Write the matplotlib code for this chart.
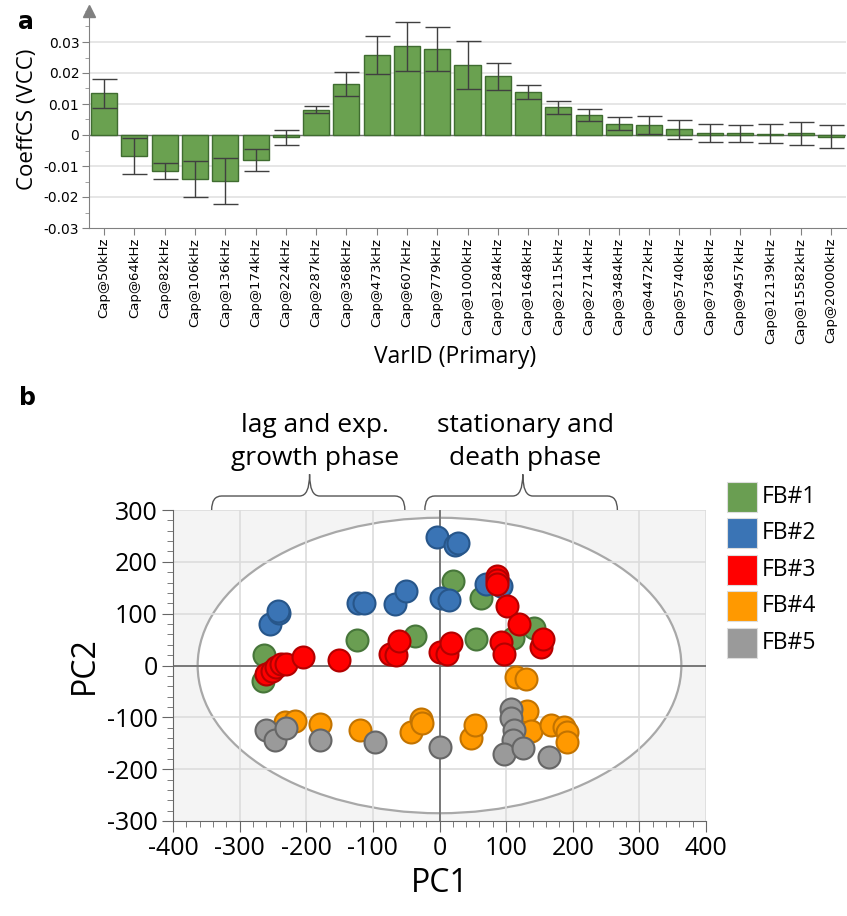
import numpy as np
import matplotlib
matplotlib.use("Agg")
from matplotlib import pyplot as plt
from matplotlib.patches import Ellipse, Rectangle, PathPatch
from matplotlib.path import Path
from matplotlib.ticker import MultipleLocator

plt.rcParams['axes.unicode_minus'] = False
plt.rcParams['font.family'] = ['Open Sans', 'DejaVu Sans']

# ---- panel a data ----
freqs = [50, 64, 82, 106, 136, 174, 224, 287, 368, 473, 607, 779, 1000, 1284,
         1648, 2115, 2714, 3484, 4472, 5740, 7368, 9457, 12139, 15582, 20000]
coef = [0.0134, -0.0067, -0.0117, -0.0142, -0.0148, -0.0080, -0.0008, 0.0082,
        0.0165, 0.0258, 0.0287, 0.0277, 0.0226, 0.0189, 0.0138, 0.0089, 0.0065,
        0.0037, 0.0032, 0.0018, 0.0006, 0.0005, 0.0004, 0.0005, -0.0005]
coef_err = [0.0046, 0.0058, 0.0026, 0.0057, 0.0075, 0.0035, 0.0023, 0.0012,
            0.0039, 0.0062, 0.0079, 0.0071, 0.0076, 0.0043, 0.0023, 0.0021,
            0.0019, 0.0022, 0.0030, 0.0032, 0.0029, 0.0026, 0.0030, 0.0036, 0.0037]
var_labels = ['Cap@%dkHz' % f for f in freqs]

# ---- panel b data ----
groups = ['FB#1', 'FB#2', 'FB#3', 'FB#4', 'FB#5']
fb1_x = [-264, -265, -124, -37, 20, 55, 62, 110, 142]
fb1_y = [21, -29, 49, 56, 163, 51, 131, 54, 72]
fb2_x = [-255, -241, -243, -123, -113, -67, -50, -4, 24, 28, 2, 14, 70, 92]
fb2_y = [81, 102, 105, 120, 120, 119, 143, 247, 233, 236, 131, 127, 157, 154]
fb3_x = [-260, -252, -245, -238, -230, -205, -151, -75, -65, -61, 0, 12, 17,
         87, 87, 87, 102, 120, 92, 97, 152, 156]
fb3_y = [-16, -10, -2, 3, 2, 17, 10, 22, 21, 47, 26, 22, 43,
         173, 165, 157, 115, 81, 45, 23, 35, 51]
fb4_x = [-232, -217, -180, -120, -43, -28, -27, 47, 54, 115, 130, 132, 137,
         167, 187, 192, 192]
fb4_y = [-109, -107, -112, -125, -128, -103, -110, -139, -115, -22, -26, -87,
         -126, -115, -119, -128, -147]
fb5_x = [-260, -247, -230, -179, -97, 0, 107, 108, 112, 110, 97, 125, 165]
fb5_y = [-124, -144, -120, -143, -147, -158, -83, -102, -125, -144, -170, -160, -176]
pc_x = [fb1_x, fb2_x, fb3_x, fb4_x, fb5_x]
pc_y = [fb1_y, fb2_y, fb3_y, fb4_y, fb5_y]
face = ['#6a9e52', '#3a74b5', '#ff0000', '#ff9900', '#9a9a9a']
edge = ['#47763a', '#27568a', '#b30000', '#c27300', '#666666']

fig = plt.figure(figsize=(8.47, 9.16), dpi=100)
W, H = 847., 916.

def box(l, t, r, b):
    return [l / W, 1 - b / H, (r - l) / W, (b - t) / H]

# ================= panel a =================
ax = fig.add_axes(box(89, 11, 846, 228))
xs = np.arange(len(coef))
ax.bar(xs, coef, width=0.86, color='#6aa150', edgecolor='#3f6c30', linewidth=1, zorder=3)
ax.errorbar(xs, coef, yerr=coef_err, fmt='none', ecolor='#404040', elinewidth=1,
            capsize=9, capthick=1, zorder=4)
ax.set_xlim(-0.5, len(coef) - 0.5)
ax.set_ylim(-0.03, 0.04)
ax.set_yticks([-0.03, -0.02, -0.01, 0, 0.01, 0.02, 0.03])
ax.set_yticklabels(['-0.03', '-0.02', '-0.01', '0', '0.01', '0.02', '0.03'],
                   fontsize=10, family='DejaVu Sans')
ax.yaxis.set_minor_locator(MultipleLocator(0.005))
for v in [-0.02, -0.01, 0.01, 0.02, 0.03]:
    ax.axhline(v, color='#e2e2e2', lw=1.2, zorder=1)
ax.axhline(0, color='#707070', lw=1, zorder=2)
ax.set_xticks(xs)
ax.set_xticklabels(var_labels, rotation=90, fontsize=9.5, family='DejaVu Sans')
for s in ['top', 'right']:
    ax.spines[s].set_visible(False)
for s in ['left', 'bottom']:
    ax.spines[s].set_color('#808080')
ax.tick_params(axis='both', which='major', color='#808080', length=5, pad=2)
ax.tick_params(axis='y', which='minor', color='#909090', length=3)
ax.plot([0], [1.0], marker='^', ms=9, color='#808080', transform=ax.transAxes,
        clip_on=False)
ax.set_ylabel('CoeffCS (VCC)', fontsize=16, labelpad=4)
ax.set_xlabel('VarID (Primary)', fontsize=16.5, labelpad=3)
ax.xaxis.set_label_coords((455 - 89) / 757., -0.54)

# ================= panel b =================
bx = fig.add_axes(box(173, 510, 706, 821))
bx.set_facecolor('#f4f4f4')
bx.add_patch(Ellipse((0, 0), 2 * 363, 2 * 285, facecolor='white', edgecolor='#a8a8a8',
                     lw=1.6, zorder=1))
for v in np.arange(-300, 401, 100):
    bx.axvline(v, color='#dcdcdc', lw=1.2, zorder=2)
for v in np.arange(-200, 301, 100):
    bx.axhline(v, color='#dcdcdc', lw=1.2, zorder=2)
bx.axvline(0, color='#707070', lw=1.3, zorder=2)
bx.axhline(0, color='#707070', lw=1.3, zorder=2)
for i in range(len(groups)):
    bx.scatter(pc_x[i], pc_y[i], s=250, c=face[i], edgecolors=edge[i], linewidths=1.5,
               zorder=3 + i)
bx.set_xlim(-400, 400)
bx.set_ylim(-300, 300)
bx.set_xticks(np.arange(-400, 401, 100))
bx.set_yticks(np.arange(-300, 301, 100))
bx.xaxis.set_minor_locator(MultipleLocator(20))
bx.yaxis.set_minor_locator(MultipleLocator(20))
bx.tick_params(axis='both', which='major', labelsize=18, color='#666666', length=8, pad=3)
bx.tick_params(axis='both', which='minor', color='#666666', length=4)
for s in ['top', 'right']:
    bx.spines[s].set_visible(False)
for s in ['left', 'bottom']:
    bx.spines[s].set_color('#666666')
bx.set_xlabel('PC1', fontsize=23, labelpad=4)
bx.set_ylabel('PC2', fontsize=23, labelpad=4)

# brackets above the score plot
def bracket(x0, x1, xc):
    y0, ym, yt = 300, 327, 369
    verts = [(x0, y0), (x0, ym), (x0 + 15, ym), (xc - 15, ym), (xc, ym), (xc, yt),
             (xc, yt), (xc, ym), (xc + 15, ym), (x1 - 15, ym), (x1, ym), (x1, y0)]
    codes = [Path.MOVETO, Path.CURVE3, Path.CURVE3, Path.LINETO, Path.CURVE3, Path.CURVE3,
             Path.MOVETO, Path.CURVE3, Path.CURVE3, Path.LINETO, Path.CURVE3, Path.CURVE3]
    bx.add_patch(PathPatch(Path(verts, codes), facecolor='none', edgecolor='#555555',
                           lw=1, clip_on=False))

bracket(-342, -52, -195)
bracket(-22, 267, 125)
fig.text(315 / W, 1 - 442 / H, 'lag and exp.\ngrowth phase', ha='center', va='center',
         fontsize=19, linespacing=1.45)
fig.text(525 / W, 1 - 442 / H, 'stationary and\ndeath phase', ha='center', va='center',
         fontsize=19, linespacing=1.45)

# legend
for i, g in enumerate(groups):
    yc = 497 + i * 36.4
    fig.patches.append(Rectangle((727 / W, 1 - (yc + 15) / H), 30 / W, 30 / H,
                                 facecolor=face[i], edgecolor='#dddddd', lw=0.8,
                                 transform=fig.transFigure, figure=fig))
    fig.text(762 / W, 1 - yc / H, g, ha='left', va='center', fontsize=16.5)

fig.text(26 / W, 1 - 22 / H, 'a', ha='center', va='center', fontsize=17, weight='bold',
         family='DejaVu Sans')
fig.text(27 / W, 1 - 398 / H, 'b', ha='center', va='center', fontsize=17, weight='bold',
         family='DejaVu Sans')

fig.savefig('out.png', dpi=100)
